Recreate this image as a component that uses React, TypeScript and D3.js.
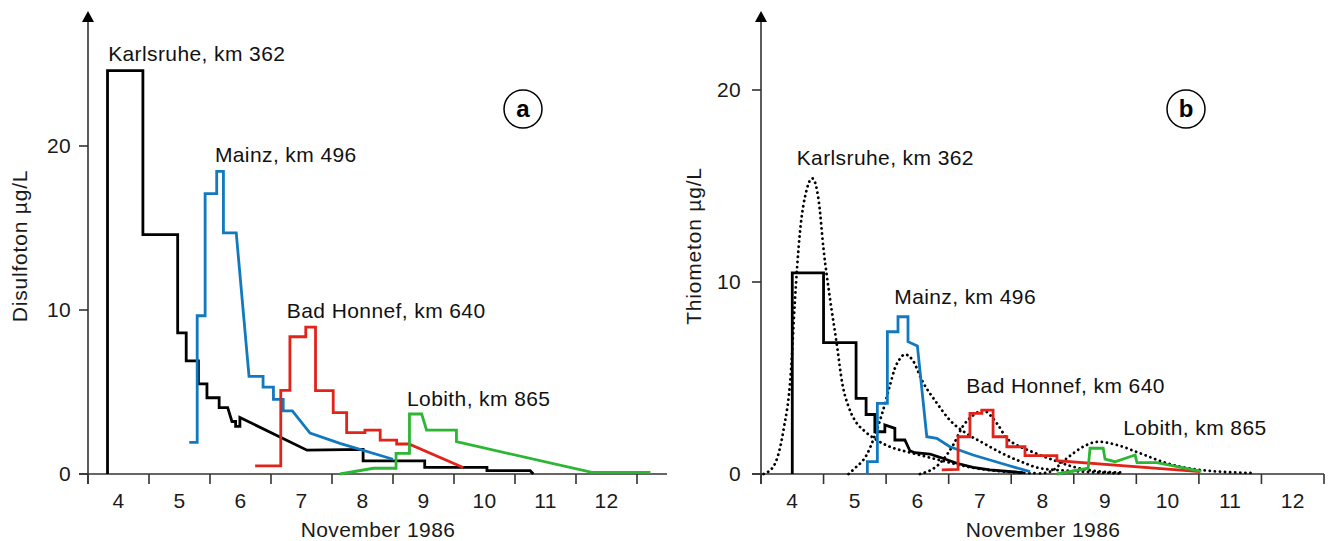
import React from "react";
import * as d3 from "d3";

// day of November 1986 (t = 4 is the start of Nov 4), concentration in µg/L
// panel a: Disulfoton
const disKarlsruhe: [number, number][] = [
  [4.32, 0], [4.32, 24.6], [4.9, 24.6], [4.9, 14.6], [5.47, 14.6], [5.47, 8.6],
  [5.61, 8.6], [5.61, 6.9], [5.81, 6.9], [5.81, 5.5], [5.95, 5.5], [5.95, 4.65],
  [6.15, 4.65], [6.15, 4.05], [6.29, 4.05], [6.36, 3.2], [6.42, 3.2], [6.42, 2.9],
  [6.49, 2.9], [6.49, 3.45], [7.59, 1.45], [8.51, 1.5], [8.51, 0.8], [9.52, 0.8],
  [9.52, 0.4], [10.54, 0.4], [10.54, 0.2], [11.25, 0.2], [11.3, 0],
];
const disMainz: [number, number][] = [
  [5.66, 1.93], [5.79, 1.93], [5.79, 9.65], [5.92, 9.65], [5.92, 17.1], [6.11, 17.1],
  [6.11, 18.45], [6.22, 18.45], [6.22, 14.7], [6.43, 14.7], [6.64, 5.95], [6.87, 5.95],
  [6.87, 5.3], [7.04, 5.3], [7.04, 4.55], [7.2, 4.55], [7.2, 3.85], [7.35, 3.85],
  [7.64, 2.5], [8.13, 1.87], [9.0, 0.9],
];
const disBadHonnef: [number, number][] = [
  [6.74, 0.49], [7.16, 0.49], [7.16, 5.1], [7.31, 5.1], [7.31, 8.37], [7.57, 8.37],
  [7.57, 8.95], [7.73, 8.95], [7.73, 5.08], [8.02, 5.08], [8.02, 3.74], [8.24, 3.74],
  [8.24, 2.52], [8.54, 2.52], [8.54, 2.68], [8.79, 2.68], [8.79, 2.07], [9.06, 2.07],
  [9.06, 1.83], [9.26, 1.83], [10.15, 0.4],
];
const disLobith: [number, number][] = [
  [8.13, 0], [8.68, 0.35], [9.05, 0.35], [9.05, 1.26], [9.27, 1.26], [9.27, 3.66],
  [9.47, 3.66], [9.55, 2.68], [10.04, 2.68], [10.04, 1.97], [12.26, 0.1], [13.22, 0.1],
];

// panel b: Thiometon, measured
const thiKarlsruhe: [number, number][] = [
  [4.5, 0], [4.5, 10.48], [5.0, 10.48], [5.0, 6.84], [5.52, 6.84], [5.52, 3.94],
  [5.68, 3.94], [5.68, 3.1], [5.82, 3.1], [5.82, 2.2], [5.98, 2.2], [5.98, 2.55],
  [6.14, 2.38], [6.14, 1.77], [6.3, 1.77], [6.38, 1.21], [6.46, 1.11], [6.7, 1.04],
  [6.86, 0.87], [7.13, 0.56], [7.39, 0.35], [7.66, 0.21], [8.19, 0.07],
];
const thiMainz: [number, number][] = [
  [5.7, 0], [5.7, 0.64], [5.86, 0.64], [5.86, 3.68], [6.02, 3.68], [6.02, 7.41],
  [6.19, 7.41], [6.19, 8.19], [6.35, 8.19], [6.35, 6.89], [6.5, 6.67], [6.65, 1.94],
  [6.81, 1.86], [7.02, 1.42], [7.39, 0.99], [7.93, 0.47], [8.3, 0.12],
];
const thiBadHonnef: [number, number][] = [
  [6.89, 0.21], [7.15, 0.24], [7.15, 1.94], [7.34, 1.94], [7.34, 3.16], [7.53, 3.16],
  [7.53, 3.33], [7.71, 3.33], [7.71, 1.94], [7.93, 1.94], [7.93, 1.42], [8.22, 1.42],
  [8.22, 0.96], [8.73, 0.96], [8.73, 0.69], [11.02, 0.12],
];
const thiLobith: [number, number][] = [
  [8.73, 0], [9.23, 0.3], [9.26, 1.34], [9.47, 1.34], [9.5, 0.77], [9.66, 0.64],
  [9.98, 0.99], [10.01, 0.59], [10.33, 0.59], [11.04, 0.14],
];

// panel b: Thiometon, model curves (dotted)
const modKarlsruhe: [number, number][] = [
  [4.04, 0], [4.2, 0.4], [4.36, 2.3], [4.48, 5.4], [4.54, 8.9], [4.62, 12.5],
  [4.73, 14.8], [4.82, 15.4], [4.92, 14.3], [5.0, 11.7], [5.1, 9.2], [5.21, 6.8],
  [5.3, 4.7], [5.4, 3.5], [5.5, 2.8], [5.65, 2.25], [5.85, 1.77], [6.06, 1.42],
  [6.33, 1.16], [6.59, 0.94], [6.86, 0.72], [7.13, 0.5], [7.39, 0.32], [7.66, 0.2],
  [8.0, 0.1], [8.4, 0.04],
];
const modMainz: [number, number][] = [
  [5.4, 0], [5.5, 0.3], [5.69, 1.0], [5.82, 2.0], [5.95, 3.3], [6.06, 4.6],
  [6.14, 5.5], [6.22, 6.0], [6.3, 6.23], [6.43, 5.9], [6.57, 4.9], [6.81, 3.7],
  [7.02, 2.8], [7.29, 2.1], [7.56, 1.6], [7.87, 1.05], [8.19, 0.6], [8.46, 0.3],
  [9.0, 0.15], [9.74, 0.03],
];
const modBadHonnef: [number, number][] = [
  [6.54, 0], [6.86, 0.56], [7.07, 1.5], [7.23, 2.5], [7.39, 3.05], [7.55, 3.3],
  [7.77, 2.64], [7.93, 1.86], [8.09, 1.51], [8.3, 1.2], [8.67, 0.73], [8.99, 0.38],
  [9.31, 0.17], [9.74, 0.08],
];
const modLobith: [number, number][] = [
  [8.46, 0.03], [8.62, 0.12], [8.89, 0.82], [9.15, 1.42], [9.39, 1.68], [9.69, 1.51],
  [10.06, 1.08], [10.49, 0.56], [11.02, 0.21], [11.87, 0.05],
];

const days = [4, 5, 6, 7, 8, 9, 10, 11, 12];
const yTicks = [0, 10, 20];
const stations = ["Karlsruhe, km 362", "Mainz, km 496", "Bad Honnef, km 640", "Lobith, km 865"];
const colors = ["#000000", "#1279be", "#e2231a", "#2db534"];

const font = "'Liberation Sans', Arial, Helvetica, sans-serif";

type Panel = {
  x: d3.ScaleLinear<number, number>;
  y: d3.ScaleLinear<number, number>;
  axisFrom: number;
  axisTo: number;
  yTitle: string;
  titleX: number;
  xTitleX: number;
  tickLabelGap: number;
  tag: string;
  tagX: number;
  measured: [number, number][][];
  model: [number, number][][];
  labelAt: [number, number][];
};

const ChartPanel = ({ p }: { p: Panel }) => {
  const { x, y } = p;
  const x0 = x(4);
  const y0 = y(0);
  const line = d3
    .line<[number, number]>()
    .x((d) => x(d[0]))
    .y((d) => y(d[1]));
  const smooth = d3
    .line<[number, number]>()
    .x((d) => x(d[0]))
    .y((d) => y(d[1]))
    .curve(d3.curveMonotoneX);
  const edges = d3.range(4, 14);
  return (
    <g fontFamily={font} fill="#1a1a1a">
      {/* axes */}
      <line x1={p.axisFrom} x2={p.axisTo} y1={y0} y2={y0} stroke="#333" strokeWidth={1.6} />
      <line x1={x0} x2={x0} y1={20} y2={y0 + 10} stroke="#333" strokeWidth={1.6} />
      <path d={`M${x0},11 L${x0 - 6},22 L${x0 + 6},22 Z`} fill="#000" />
      {edges.map((e) => (
        <line key={e} x1={x(e)} x2={x(e)} y1={y0} y2={y0 + 10} stroke="#333" strokeWidth={1.6} />
      ))}
      {yTicks.map((v) => (
        <g key={v}>
          <line x1={x0 - 9} x2={x0} y1={y(v)} y2={y(v)} stroke="#333" strokeWidth={1.6} />
          <text x={x0 - p.tickLabelGap} y={y(v) + 7} textAnchor="end" fontSize={21} letterSpacing={0.3}>
            {v}
          </text>
        </g>
      ))}
      {days.map((d) => (
        <text key={d} x={x(d + 0.5)} y={508} textAnchor="middle" fontSize={21} letterSpacing={0.3}>
          {d}
        </text>
      ))}
      <text x={p.xTitleX} y={537} textAnchor="middle" fontSize={21} letterSpacing={0.4}>
        November 1986
      </text>
      <text
        transform={`translate(${p.titleX},246) rotate(-90)`}
        textAnchor="middle"
        fontSize={21}
        letterSpacing={0.8}
      >
        {p.yTitle}
      </text>

      {/* series */}
      {p.model.map((s, i) => (
        <path
          key={"m" + i}
          d={smooth(s) || ""}
          fill="none"
          stroke="#000"
          strokeWidth={2.8}
          strokeDasharray="0.1 5"
          strokeLinecap="round"
        />
      ))}
      {p.measured.map((s, i) => (
        <path
          key={"s" + i}
          d={line(s) || ""}
          fill="none"
          stroke={colors[i]}
          strokeWidth={2.8}
          strokeLinejoin="miter"
        />
      ))}
      {stations.map((name, i) => (
        <text
          key={name}
          x={x(p.labelAt[i][0])}
          y={y(p.labelAt[i][1])}
          fontSize={21}
          letterSpacing={0.4}
          fill="#111"
        >
          {name}
        </text>
      ))}

      {/* panel tag */}
      <circle cx={p.tagX} cy={109} r={19} fill="none" stroke="#000" strokeWidth={1.5} />
      <text x={p.tagX} y={117} textAnchor="middle" fontSize={24} fontWeight="bold" fill="#000">
        {p.tag}
      </text>
    </g>
  );
};

export default function App() {
  const panelA: Panel = {
    x: d3.scaleLinear().domain([4, 13]).range([88, 637]),
    y: d3.scaleLinear().domain([0, 20]).range([474, 146]),
    axisFrom: 79,
    axisTo: 667,
    yTitle: "Disulfoton µg/L",
    titleX: 27,
    xTitleX: 378,
    tickLabelGap: 17,
    tag: "a",
    tagX: 523,
    measured: [disKarlsruhe, disMainz, disBadHonnef, disLobith],
    model: [],
    labelAt: [[4.33, 25.18], [6.08, 19.02], [7.26, 9.53], [9.23, 4.15]],
  };
  const panelB: Panel = {
    x: d3.scaleLinear().domain([4, 13]).range([761, 1324]),
    y: d3.scaleLinear().domain([0, 20]).range([474, 90]),
    axisFrom: 752,
    axisTo: 1324,
    yTitle: "Thiometon µg/L",
    titleX: 701,
    xTitleX: 1043,
    tickLabelGap: 20,
    tag: "b",
    tagX: 1186,
    measured: [thiKarlsruhe, thiMainz, thiBadHonnef, thiLobith],
    model: [modKarlsruhe, modMainz, modBadHonnef, modLobith],
    labelAt: [[4.57, 16.09], [6.13, 8.84], [7.28, 4.2], [9.79, 2.03]],
  };
  return (
    <svg
      width={1332}
      height={541}
      style={{ position: "absolute", left: 0, top: 0, background: "#fff" }}
    >
      <ChartPanel p={panelA} />
      <ChartPanel p={panelB} />
    </svg>
  );
}
